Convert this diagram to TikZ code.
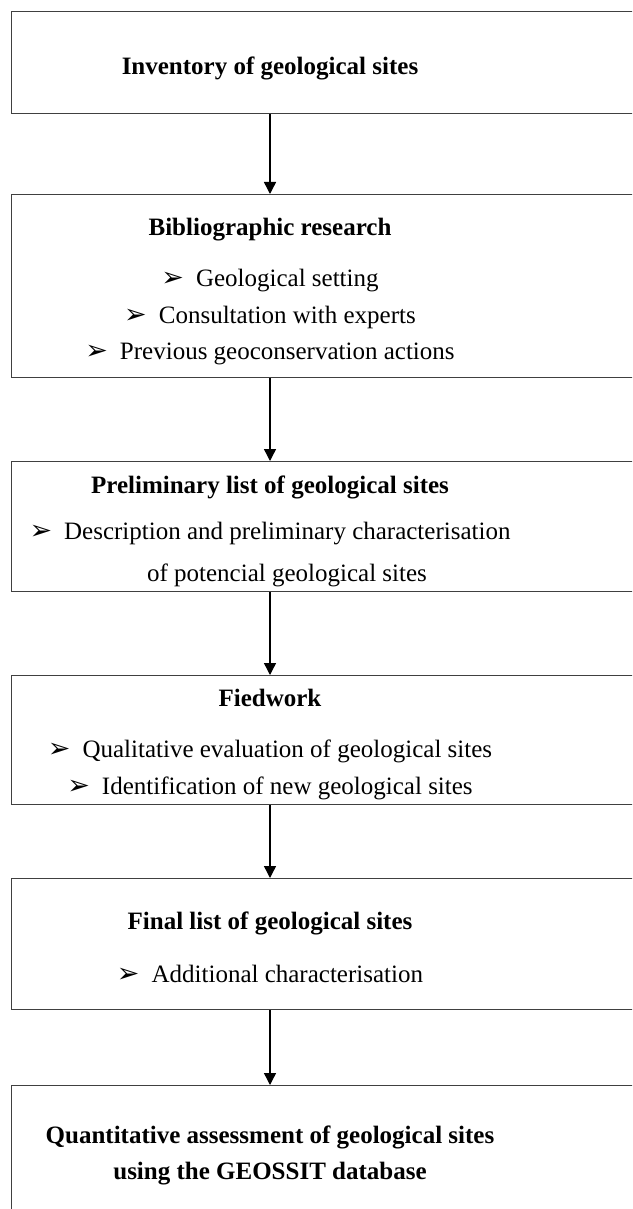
\documentclass[tikz,border=0pt]{standalone}
\usepackage{fontspec}
\setmainfont{Liberation Serif}
\newfontfamily\dejavu{DejaVu Sans}
\usetikzlibrary{arrows.meta}
\newcommand{\bul}{{\dejavu\fontsize{27}{27}\selectfont ➢}\hspace{12pt}}
\begin{document}
\begin{tikzpicture}[x=1pt,y=-1pt,
  box/.style={draw=black!75,line width=1.4pt,inner sep=0pt,anchor=north west,minimum width=720pt},
  ttl/.style={font=\fontsize{25}{30}\selectfont\bfseries,anchor=base,inner sep=0pt},
  txt/.style={font=\fontsize{25}{30}\selectfont,anchor=base,inner sep=0pt},
  arr/.style={line width=1.4pt,-{Triangle[length=12pt,width=12pt]}}]
\useasboundingbox (0,0) rectangle (632,1209);
\clip (0,0) rectangle (632,1209);
\fill[white] (0,0) rectangle (632,1209);
\coordinate (ax) at (270,0);
\node[box,minimum height=102pt] (b1) at (11,11) {};
\node[box,minimum height=183pt] (b2) at (11,194) {};
\node[box,minimum height=130pt] (b3) at (11,461) {};
\node[box,minimum height=129pt] (b4) at (11,675) {};
\node[box,minimum height=131pt] (b5) at (11,878) {};
\node[box,minimum height=180pt] (b6) at (11,1085) {};

\node[ttl] (t1) at (270,75) {Inventory of geological sites};

\node[ttl] (t2) at (270,235) {Bibliographic research};
\node[txt] (t2a) at (270,286) {\bul Geological setting};
\node[txt] (t2b) at (270,323) {\bul Consultation with experts};
\node[txt] (t2c) at (270,359) {\bul Previous geoconservation actions};

\node[ttl] (t3) at (270,493) {Preliminary list of geological sites};
\node[txt] (t3a) at (270,539) {\bul Description and preliminary characterisation};
\node[txt] (t3b) at (287,581) {of potencial geological sites};

\node[ttl] (t4) at (270,706) {Fiedwork};
\node[txt] (t4a) at (270,757) {\bul Qualitative evaluation of geological sites};
\node[txt] (t4b) at (270,794) {\bul Identification of new geological sites};

\node[ttl] (t5) at (270,929) {Final list of geological sites};
\node[txt] (t5a) at (270,982) {\bul Additional characterisation};

\node[ttl] (t6a) at (270,1143) {Quantitative assessment of geological sites};
\node[ttl] (t6b) at (270,1179) {using the GEOSSIT database};

\draw[arr] (b1.south -| ax) -- (b2.north -| ax);
\draw[arr] (b2.south -| ax) -- (b3.north -| ax);
\draw[arr] (b3.south -| ax) -- (b4.north -| ax);
\draw[arr] (b4.south -| ax) -- (b5.north -| ax);
\draw[arr] (b5.south -| ax) -- (b6.north -| ax);
\end{tikzpicture}
\end{document}
